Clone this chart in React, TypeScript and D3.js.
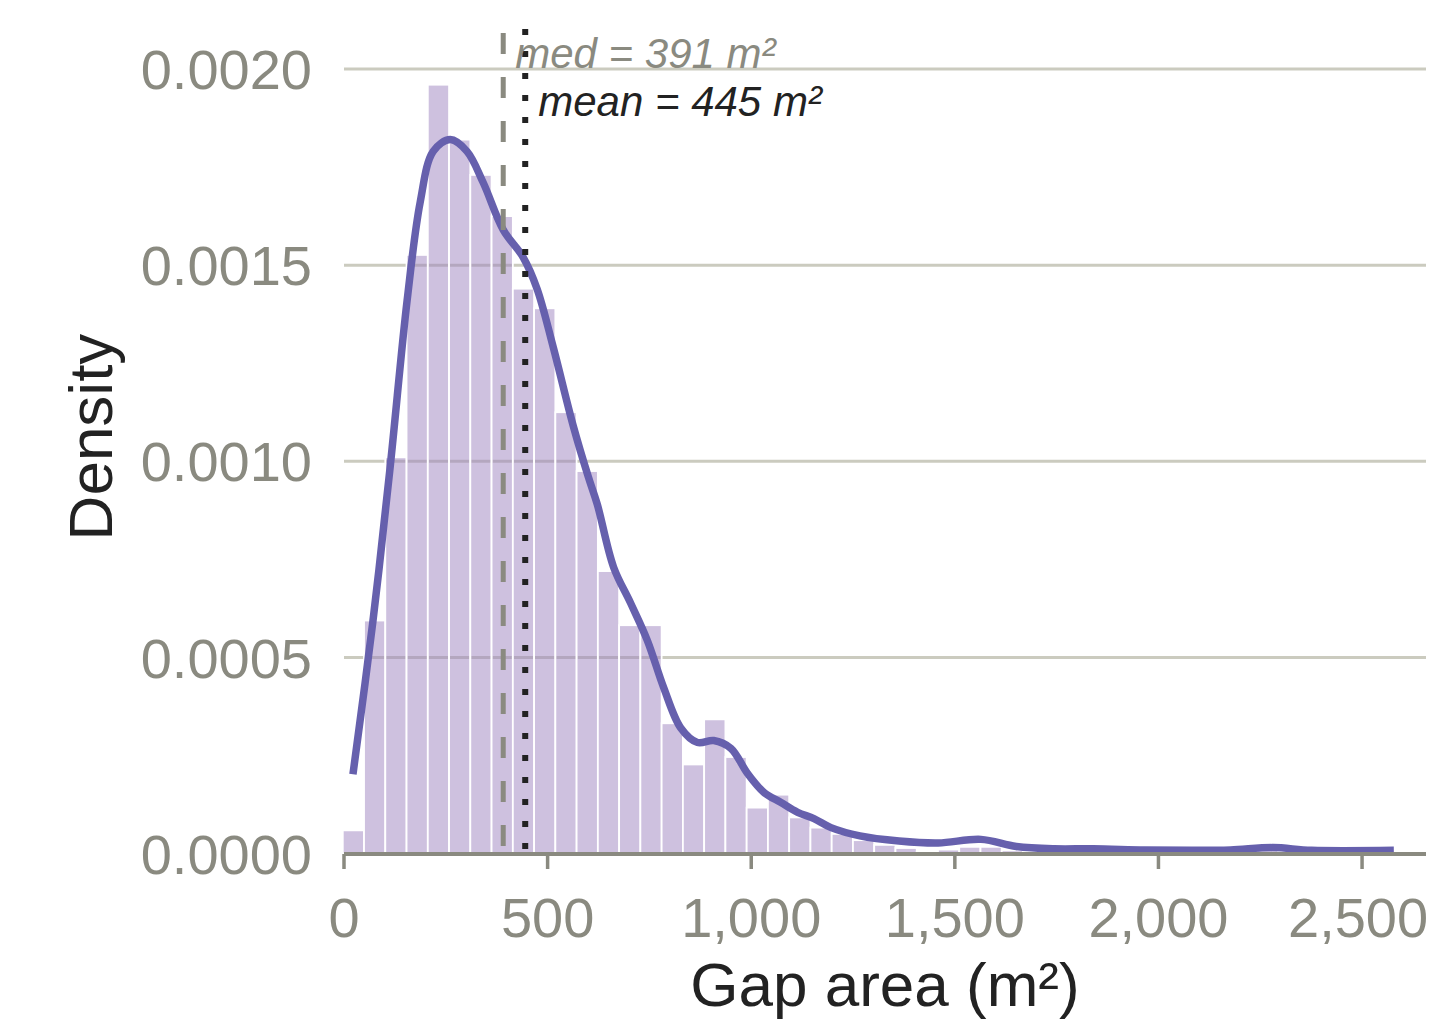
import React from 'react';
import * as d3 from 'd3';

// histogram: bins of equal width starting at binStart
const binStart = -3;
const binWidth = 52.2;
const binDensity = [
  0.000059, 0.000594, 0.00101, 0.001526, 0.00196, 0.00182, 0.00173, 0.001625,
  0.00144, 0.00139, 0.001125, 0.000975, 0.00072, 0.000582, 0.000582, 0.000332,
  0.000227, 0.000342, 0.000246, 0.000117, 0.00015, 0.000092, 0.000066, 0.00005,
  0.000034, 0.000022, 0.000014, 0.000004, 0.00001, 0.000017, 0.000017, 0.000008,
  0.000004, 0.000004, 0.000004, 0, 0.000004, 0, 0.000004, 0,
  0, 0, 0.000004, 0.000008, 0, 0, 0, 0, 0, 0.000004,
];

// kernel density estimate
const kdeX = [
  22, 71, 113, 155, 187, 219, 261, 302, 342, 391, 440, 474, 514, 563, 600, 622,
  662, 704, 745, 785, 827, 868, 908, 950, 991, 1031, 1073, 1114, 1154, 1196,
  1267, 1363, 1459, 1564, 1651, 1744, 1840, 1966, 2081, 2177, 2281, 2376, 2578,
];
const kdeY = [
  0.000202, 0.000592, 0.000982, 0.00141, 0.00166, 0.00179, 0.00182, 0.00179,
  0.00171, 0.00159, 0.00152, 0.00144, 0.00129, 0.00109, 0.00096, 0.00089,
  0.00073, 0.000638, 0.000543, 0.000423, 0.00032, 0.000283, 0.000288, 0.000268,
  0.000204, 0.000156, 0.00013, 0.000105, 0.000089, 0.000066,
  0.000045, 0.000032, 0.000027, 0.000036, 0.000018, 0.000012, 0.000012,
  0.000009, 0.000008, 0.000009, 0.000015, 0.000008, 0.000008,
];

const medianValue = 391;
const meanValue = 445;
const xTicks = [0, 500, 1000, 1500, 2000, 2500];
const yTicks = [0, 0.0005, 0.001, 0.0015, 0.002];

const W = 1430;
const H = 1030;

export default function App() {
  const x = d3.scaleLinear().domain([0, 2657]).range([344, 1426]);
  const y = d3.scaleLinear().domain([0, 0.002]).range([853.5, 69]);

  const bins = binDensity.map((d, i) => ({
    x0: binStart + i * binWidth,
    x1: binStart + (i + 1) * binWidth,
    d,
  }));

  const kde = kdeX.map((v, i) => [v, kdeY[i]] as [number, number]);
  const line = d3
    .line<[number, number]>()
    .x(d => x(d[0]))
    .y(d => y(d[1]))
    .curve(d3.curveCatmullRom.alpha(0.5));

  const fmtX = d3.format(',');
  const grey = '#8a8a80';
  const font = '"Liberation Sans", Arial, sans-serif';

  return (
    <svg
      width={W}
      height={H}
      style={{ position: 'absolute', left: 0, top: 0, background: '#fff' }}
      fontFamily={font}
    >
      {/* grid */}
      {yTicks.slice(1).map(t => (
        <line key={t} x1={344} x2={1426} y1={y(t)} y2={y(t)} stroke="#cbcbbf" strokeWidth={3} />
      ))}

      {/* histogram */}
      {bins.filter(b => b.d > 0).map((b, i) => (
        <rect
          key={i}
          x={x(b.x0)}
          y={y(b.d)}
          width={x(b.x1) - x(b.x0)}
          height={y(0) - y(b.d)}
          fill="#9d83bf"
          fillOpacity={0.5}
          stroke="#fff"
          strokeWidth={1.8}
        />
      ))}

      {/* density curve */}
      <path d={line(kde) || ''} fill="none" stroke="#6660ad" strokeWidth={7.5} strokeLinejoin="round" />

      {/* median and mean */}
      <line x1={x(medianValue)} x2={x(medianValue)} y1={33} y2={853} stroke={grey} strokeWidth={5} strokeDasharray="21,23" />
      <line x1={x(meanValue)} x2={x(meanValue)} y1={29} y2={853} stroke="#222" strokeWidth={6} strokeDasharray="6,16" />
      <text x={x(medianValue) + 12} y={68} fontSize={42} fontStyle="italic" fill={grey}>
        med = {medianValue} m²
      </text>
      <text x={x(meanValue) + 13} y={116} fontSize={42} fontStyle="italic" fill="#222">
        mean = {meanValue} m²
      </text>

      {/* x axis */}
      <line x1={344} x2={1426} y1={854} y2={854} stroke={grey} strokeWidth={4} />
      {xTicks.map((t, i) => (
        <g key={t}>
          <line x1={x(t)} x2={x(t)} y1={854} y2={869} stroke={grey} strokeWidth={3.5} />
          <text
            x={x(t)}
            dx={i === xTicks.length - 1 ? -4 : 0}
            y={937}
            fontSize={56}
            fill={grey}
            textAnchor="middle"
          >
            {fmtX(t)}
          </text>
        </g>
      ))}

      {/* y axis labels */}
      {yTicks.map(t => (
        <text key={t} x={312} y={y(t)} dy="0.36em" fontSize={56} fill={grey} textAnchor="end">
          {t.toFixed(4)}
        </text>
      ))}

      <text x={885} y={1006} fontSize={62} fill="#222" textAnchor="middle">
        Gap area (m²)
      </text>
      <text transform="translate(112,437) rotate(-90)" fontSize={62} fill="#222" textAnchor="middle">
        Density
      </text>
    </svg>
  );
}
